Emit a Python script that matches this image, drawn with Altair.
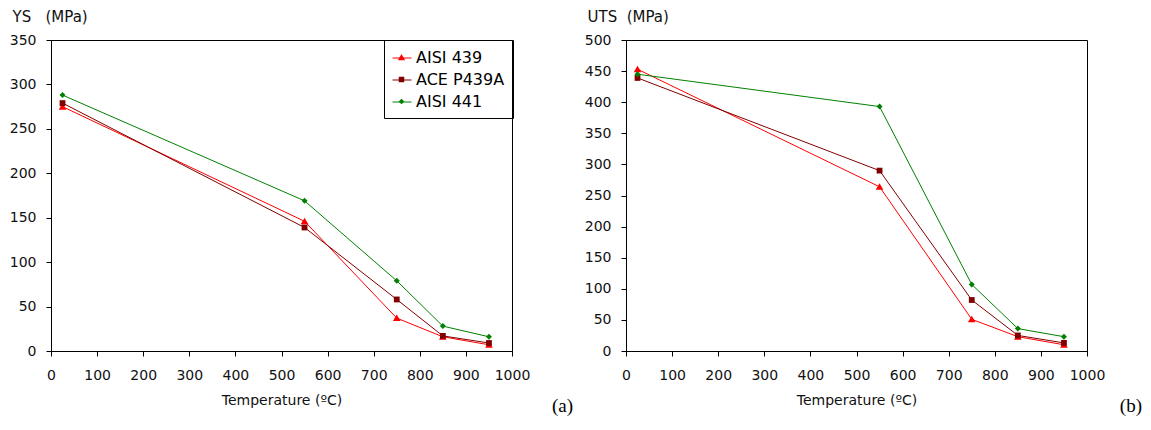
import altair as alt
import pandas as pd

# ---- data ----
temps = [25, 550, 750, 850, 950]
series = ["AISI 439", "ACE P439A", "AISI 441"]
colors = ["#ff0000", "#800000", "#008000"]

ys_aisi439 = [275, 146, 37, 16, 7]
ys_ace = [279, 139, 58, 17, 9]
ys_aisi441 = [288, 169, 79, 28, 16]

uts_aisi439 = [453, 264, 51, 23, 10]
uts_ace = [439, 290, 82, 25, 13]
uts_aisi441 = [445, 393, 107, 36, 23]

x_ticks = list(range(0, 1001, 100))

# marker paths (unit coordinates; size 400 -> 10 px per unit)
marker_paths = [
    "M-0.38,0.3L0,-0.36L0.38,0.3Z",
    "M-0.29,-0.29H0.29V0.29H-0.29Z",
    "M-0.3,0L0,-0.3L0.3,0L0,0.3Z",
]
marker_keys = [s + " " for s in series]


def long_table(vals_list):
    rows = []
    for s, vals in zip(series, vals_list):
        for t, v in zip(temps, vals):
            rows.append({"series": s, "key": s + " ", "temp": t, "value": v})
    return pd.DataFrame(rows)


LEG = dict(
    title=None,
    orient="none",
    legendX=333,
    legendY=0,
    direction="vertical",
    symbolSize=361,
    labelFontSize=16,
    labelOffset=4,
    labelColor="black",
    labelFont="DejaVu Sans",
    padding=8,
    rowPadding=4,
)


def panel(df, ymax, ytitle, tag, tag_dx):
    x = alt.X(
        "temp:Q",
        scale=alt.Scale(domain=[0, 1000], nice=False),
        axis=alt.Axis(
            values=x_ticks,
            format="d",
            labelOverlap=False,
            labelFlush=False,
            title="Temperature (ºC)",
            labelPadding=12,
            titlePadding=11,
        ),
    )
    y = alt.Y(
        "value:Q",
        scale=alt.Scale(domain=[0, ymax], nice=False),
        axis=alt.Axis(
            values=list(range(0, ymax + 1, 50)),
            format="d",
            labelOverlap=False,
            labelFlush=False,
            title=ytitle,
            titleAngle=0,
            titleAlign="left",
            titleBaseline="alphabetic",
            titleX=-39,
            titleY=-19,
            titleFontSize=15,
            labelPadding=10,
        ),
    )
    lines = alt.Chart(df).mark_line(strokeWidth=1).encode(
        x=x,
        y=y,
        color=alt.Color(
            "series:N",
            scale=alt.Scale(domain=series, range=colors),
            legend=alt.Legend(
                symbolType="stroke",
                symbolStrokeWidth=1,
                strokeColor="black",
                **LEG,
            ),
        ),
    )
    marker_legend = alt.Legend(
        labelExpr="''",
        symbolOpacity=1,
        symbolStrokeWidth=0,
        **LEG,
    )
    pts = alt.Chart(df).mark_point(filled=True, size=400, opacity=1, strokeWidth=0).encode(
        x=x,
        y=y,
        fill=alt.Fill(
            "key:N",
            scale=alt.Scale(domain=marker_keys, range=colors),
            legend=marker_legend,
        ),
        shape=alt.Shape(
            "key:N",
            scale=alt.Scale(domain=marker_keys, range=marker_paths),
            legend=marker_legend,
        ),
    )
    return alt.layer(lines, pts).properties(
        width=461,
        height=311,
        title=alt.TitleParams(
            tag,
            orient="bottom",
            anchor="end",
            frame="group",
            font="Liberation Serif",
            fontSize=19,
            fontWeight="normal",
            color="black",
            dx=tag_dx,
            offset=-10,
        ),
    )


NB = "\u00a0"
left = panel(long_table([ys_aisi439, ys_ace, ys_aisi441]), 350, f"YS{NB*3}(MPa)", "(a)", 61)
right = panel(long_table([uts_aisi439, uts_ace, uts_aisi441]), 500, f"UTS{NB*2}(MPa)", "(b)", 55)

chart = (
    alt.hconcat(left, right, spacing=114, bounds="flush")
    .properties(padding={"left": 0, "top": 0, "right": 0, "bottom": 0})
    .configure(font="DejaVu Sans")
    .configure_view(stroke="black", strokeWidth=1)
    .configure_axis(
        grid=False,
        domainColor="black",
        domainWidth=1,
        tickColor="black",
        tickSize=5,
        labelFont="DejaVu Sans",
        labelFontSize=14,
        labelColor="#111",
        titleFont="DejaVu Sans",
        titleFontSize=14,
        titleFontWeight="normal",
        titleColor="#111",
    )
)

chart.save("out.html", embed_options={"renderer": "svg", "actions": False})
